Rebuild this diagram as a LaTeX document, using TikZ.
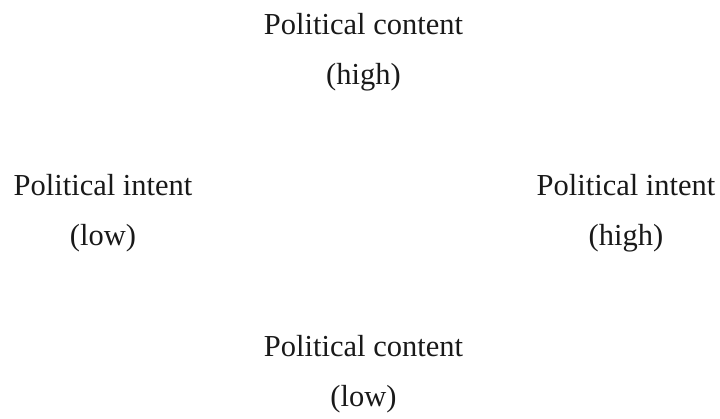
\documentclass[tikz,border=0pt]{standalone}
\usepackage{fontspec}
\setmainfont{Liberation Serif}
\begin{document}
\begin{tikzpicture}[x=1pt,y=1pt,
  lbl/.style={anchor=base,inner sep=0pt,outer sep=0pt,text=black!90,font=\fontsize{30.5}{36}\selectfont}]
\useasboundingbox (0,0) rectangle (720,419);
\node[lbl] (ctop) at (363.5,384) {Political content};
\node[lbl] (ctoph) at (363.5,334) {(high)};
\node[lbl] (ileft) at (103,223) {Political intent};
\node[lbl] (ileftl) at (103,173) {(low)};
\node[lbl] (iright) at (626,223) {Political intent};
\node[lbl] (irighth) at (626,173) {(high)};
\node[lbl] (cbot) at (363.5,62) {Political content};
\node[lbl] (cbotl) at (363.5,12) {(low)};
\end{tikzpicture}
\end{document}
